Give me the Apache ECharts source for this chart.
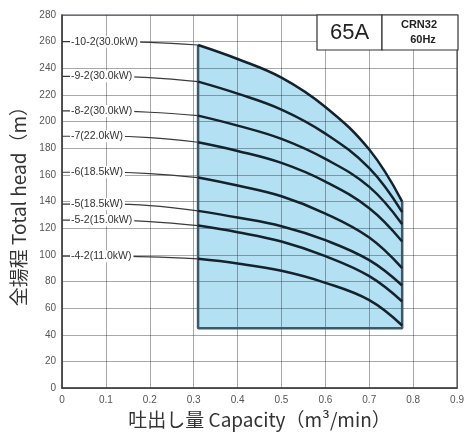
<!DOCTYPE html>
<html>
<head>
<meta charset="utf-8">
<script src="https://cdn.jsdelivr.net/npm/echarts@6/dist/echarts.min.js"></script>
<style>
  html, body { margin: 0; padding: 0; background: #fff; }
  #mychart { width: 467px; height: 434px; }
</style>
</head>
<body>
<div id="mychart"></div>
<script>
// 流量 (m3/min) の読み取り点
let qThin = [0, 0.1, 0.2, 0.31];
let qThick = [0.31, 0.4, 0.5, 0.6, 0.7, 0.775];

// 機種ごとの全揚程 (m)、qThin + qThick[1..] の順
let models = ['-10-2(30.0kW)', '-9-2(30.0kW)', '-8-2(30.0kW)', '-7(22.0kW)',
  '-6(18.5kW)', '-5(18.5kW)', '-5-2(15.0kW)', '-4-2(11.0kW)'];
let h10_2 = [260, 260, 259.5, 257.5, 247, 233, 211, 179, 140];
let h9_2 = [234, 234, 233, 230, 221, 209, 191, 165, 132];
let h8_2 = [208, 208, 207, 204.5, 197, 187, 172, 151, 123];
let h7 = [189, 189, 188, 184.5, 178, 169, 155, 135, 110];
let h6 = [162, 162, 161, 158, 152, 144, 131, 113, 90];
let h5 = [138, 138, 137, 133, 128, 121.5, 111, 96, 77];
let h5_2 = [126, 126, 125, 122, 117, 110, 99, 84, 65];
let h4_2 = [99, 99, 98.5, 97, 93.5, 88, 79, 66, 47];
let heads = [h10_2, h9_2, h8_2, h7, h6, h5, h5_2, h4_2];

// 使用範囲の下限 (m)
let rangeBottom = 45;

let xTicks = [0, 0.1, 0.2, 0.3, 0.4, 0.5, 0.6, 0.7, 0.8, 0.9];
let yTicks = [0, 20, 40, 60, 80, 100, 120, 140, 160, 180, 200, 220, 240, 260, 280];

let colors = {
  grid: 'rgba(30, 40, 50, 0.4)',
  axis: '#444',
  label: '#555',
  thin: '#3a3a3a',
  thick: '#14222c',
  area: 'rgb(148, 211, 240)',
  border: '#3f5868',
};

function thinData(h) {
  return qThin.map((q, i) => [q, h[i]]);
}
function thickData(h) {
  return qThick.map((q, i) => [q, h[i + qThin.length - 1]]);
}

let series = [];

// 使用範囲 (青)
let topCurve = thickData(h10_2);
series.push({
  type: 'line',
  data: topCurve,
  smooth: 0.4,
  showSymbol: false,
  lineStyle: { width: 0 },
  areaStyle: { color: colors.area, origin: rangeBottom },
  silent: true,
  z: 1,
});
series.push({
  type: 'line',
  data: [
    topCurve[0],
    [qThick[0], rangeBottom],
    [qThick[qThick.length - 1], rangeBottom],
    topCurve[topCurve.length - 1],
  ],
  showSymbol: false,
  lineStyle: { color: colors.border, width: 2.5 },
  silent: true,
  z: 3,
});

heads.forEach((h, i) => {
  series.push({
    type: 'line',
    data: thinData(h),
    smooth: 0.4,
    showSymbol: false,
    lineStyle: { color: colors.thin, width: 1.2 },
    z: 4,
    markPoint: {
      symbol: 'rect',
      symbolSize: 0,
      data: [{
        coord: [0, h[0]],
        label: {
          show: true,
          position: 'right',
          distance: 8,
          formatter: models[i],
          color: '#333',
          fontSize: 10.5,
          fontFamily: 'Liberation Sans',
          backgroundColor: '#fff',
          padding: [1, 2, 0, 1],
        },
      }],
    },
  });
  series.push({
    type: 'line',
    data: thickData(h),
    smooth: 0.4,
    showSymbol: false,
    lineStyle: { color: colors.thick, width: 2.5 },
    z: 5,
  });
});

let option = {
  animation: false,
  grid: {
    left: 62,
    right: 9,
    top: 15,
    bottom: 44,
    show: true,
    borderColor: colors.axis,
    borderWidth: 1.2,
  },
  xAxis: {
    type: 'value',
    z: 2,
    min: xTicks[0],
    max: xTicks[xTicks.length - 1],
    interval: 0.1,
    axisLine: { lineStyle: { color: colors.axis, width: 1.5 } },
    axisTick: { show: false },
    axisLabel: {
      color: colors.label,
      fontSize: 10,
      fontFamily: 'Liberation Sans',
      margin: 7,
      formatter: (v) => String(Math.round(v * 10) / 10),
    },
    splitLine: { lineStyle: { color: colors.grid, width: 1 } },
    name: '吐出し量 Capacity（m³/min）',
    nameLocation: 'middle',
    nameGap: 19,
    nameTextStyle: {
      color: '#333',
      fontSize: 19,
      fontFamily: 'Noto Sans CJK JP',
    },
  },
  yAxis: {
    type: 'value',
    z: 2,
    min: yTicks[0],
    max: yTicks[yTicks.length - 1],
    interval: 20,
    axisLine: { show: true, lineStyle: { color: colors.axis, width: 1.5 } },
    axisTick: { show: false },
    axisLabel: {
      color: colors.label,
      fontSize: 10,
      fontFamily: 'Liberation Sans',
      margin: 6,
    },
    splitLine: { lineStyle: { color: colors.grid, width: 1 } },
    name: '全揚程 Total head（m）',
    nameLocation: 'middle',
    nameGap: 30,
    nameRotate: 90,
    nameTextStyle: {
      color: '#333',
      fontSize: 19,
      fontFamily: 'Noto Sans CJK JP',
    },
  },
  graphic: [
    {
      type: 'rect',
      shape: { x: 317, y: 15, width: 65, height: 35 },
      style: { fill: '#fff', stroke: '#333', lineWidth: 1.2 },
      z: 100,
    },
    {
      type: 'rect',
      shape: { x: 382, y: 15, width: 76, height: 35 },
      style: { fill: '#fff', stroke: '#333', lineWidth: 1.2 },
      z: 100,
    },
    {
      type: 'text',
      x: 349.5,
      y: 33,
      style: {
        text: '65A', fill: '#222', fontSize: 22,
        fontFamily: 'Liberation Sans', align: 'center', verticalAlign: 'middle',
      },
      z: 101,
    },
    {
      type: 'text',
      x: 419,
      y: 25,
      style: {
        text: 'CRN32', fill: '#222', fontSize: 11, fontWeight: 'bold',
        fontFamily: 'Liberation Sans', align: 'center', verticalAlign: 'middle',
      },
      z: 101,
    },
    {
      type: 'text',
      x: 423,
      y: 40,
      style: {
        text: '60Hz', fill: '#222', fontSize: 11, fontWeight: 'bold',
        fontFamily: 'Liberation Sans', align: 'center', verticalAlign: 'middle',
      },
      z: 101,
    },
  ],
  series: series,
};

let myChart = echarts.init(document.getElementById('mychart'));
myChart.setOption(option);
</script>
</body>
</html>
